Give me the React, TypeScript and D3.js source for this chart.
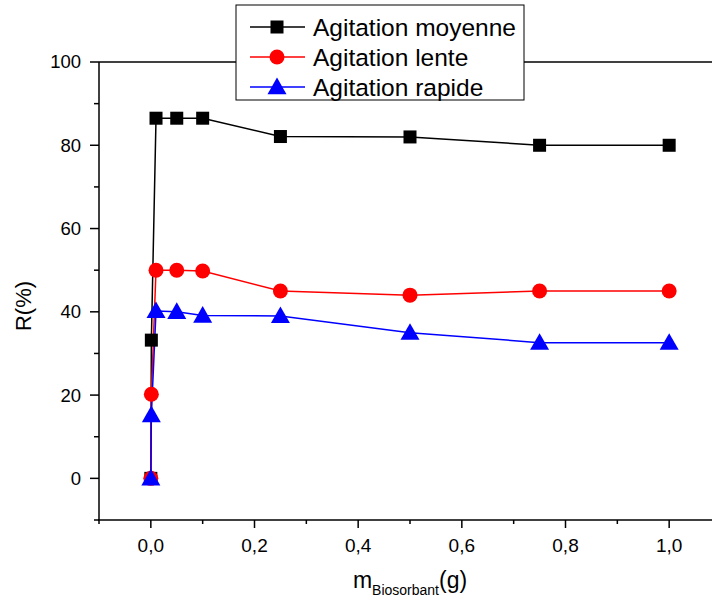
import React from "react";
import * as d3 from "d3";

const xValues = [0, 0.001, 0.01, 0.05, 0.1, 0.25, 0.5, 0.75, 1.0];
const moyenne = [0, 33.2, 86.5, 86.5, 86.5, 82.1, 82.0, 80.0, 80.0];
const lente = [0, 20.2, 50.0, 50.0, 49.8, 45.0, 44.0, 45.0, 45.0];
const rapide = [0, 15.2, 40.2, 40.0, 39.1, 39.0, 35.0, 32.6, 32.6];
const seriesNames = ["Agitation moyenne", "Agitation lente", "Agitation rapide"];
const xTicks = [0, 0.2, 0.4, 0.6, 0.8, 1.0];
const xMinor = [-0.1, 0.1, 0.3, 0.5, 0.7, 0.9, 1.1];
const yTicks = [0, 20, 40, 60, 80, 100];
const yMinor = [-10, 10, 30, 50, 70, 90];

const W = 712, H = 600;
const left = 99, top = 62, bottom = 520;
const x = d3.scaleLinear().domain([-0.1, 1.1]).range([left, 721]);
const y = d3.scaleLinear().domain([-10, 100]).range([bottom, top]);

const colors = ["#000000", "#ff0000", "#0000ff"];
const font = "Arial, 'Liberation Sans', sans-serif";

function Marker({ kind, cx, cy, color }: { kind: number; cx: number; cy: number; color: string }) {
  if (kind === 0) return <rect x={cx - 6.5} y={cy - 6.5} width={13} height={13} fill={color} />;
  if (kind === 1) return <circle cx={cx} cy={cy} r={7.5} fill={color} />;
  const s = 9.5;
  return <path d={`M${cx},${cy - s}L${cx + s},${cy + s * 0.75}L${cx - s},${cy + s * 0.75}Z`} fill={color} />;
}

export default function App() {
  const all = [moyenne, lente, rapide];
  const line = d3.line<number>().x((_, i) => x(xValues[i])).y((d) => y(d));
  const order = [0, 1, 2];
  return (
    <svg width={W} height={H} style={{ position: "absolute", left: 0, top: 0, background: "#fff" }} fontFamily={font}>
      <rect width={W} height={H} fill="#fff" />
      {/* frame */}
      <line x1={left} y1={top} x2={W} y2={top} stroke="#000" strokeWidth={1.5} />
      <line x1={left} y1={top} x2={left} y2={bottom} stroke="#000" strokeWidth={1.5} />
      <line x1={left - 1} y1={bottom} x2={W} y2={bottom} stroke="#000" strokeWidth={1.5} />
      {yTicks.map((t) => (
        <g key={"y" + t}>
          <line x1={left - 9} x2={left} y1={y(t)} y2={y(t)} stroke="#000" strokeWidth={1.5} />
          <text x={81} y={y(t)} dy="0.35em" textAnchor="end" fontSize={18.5}>{t}</text>
        </g>
      ))}
      {yMinor.map((t) => (
        <line key={"ym" + t} x1={left - 5} x2={left} y1={y(t)} y2={y(t)} stroke="#000" strokeWidth={1.5} />
      ))}
      {xTicks.map((t) => (
        <g key={"x" + t}>
          <line x1={x(t)} x2={x(t)} y1={bottom} y2={bottom + 8} stroke="#000" strokeWidth={1.5} />
          <text x={x(t)} y={552} textAnchor="middle" fontSize={19}>{d3.format(".1f")(t).replace(".", ",")}</text>
        </g>
      ))}
      {xMinor.map((t) => (
        <line key={"xm" + t} x1={x(t)} x2={x(t)} y1={bottom} y2={bottom + 4} stroke="#000" strokeWidth={1.5} />
      ))}
      {/* axis titles */}
      <text x={410} y={588} textAnchor="middle" fontSize={23}>
        m<tspan fontSize={14} dy={7}>Biosorbant</tspan><tspan dy={-7}>(g)</tspan>
      </text>
      <text transform={`translate(31,306) rotate(-90)`} textAnchor="middle" fontSize={22}>R(%)</text>
      {/* series */}
      {order.map((k) => (
        <path key={"l" + k} d={line(all[k]) || ""} fill="none" stroke={colors[k]} strokeWidth={1.5} />
      ))}
      {order.map((k) =>
        all[k].map((v, i) => <Marker key={k + "-" + i} kind={k} cx={x(xValues[i])} cy={y(v)} color={colors[k]} />)
      )}
      {/* legend */}
      <rect x={236} y={5} width={288} height={95} fill="#fff" stroke="#000" strokeWidth={1} />
      {seriesNames.map((n, k) => {
        const ly = 27 + k * 30;
        return (
          <g key={n}>
            <line x1={250} x2={305} y1={ly} y2={ly} stroke={colors[k]} strokeWidth={1.5} />
            <Marker kind={k} cx={277} cy={ly} color={colors[k]} />
            <text x={313} y={ly} dy="0.35em" fontSize={24.5}>{n}</text>
          </g>
        );
      })}
    </svg>
  );
}
